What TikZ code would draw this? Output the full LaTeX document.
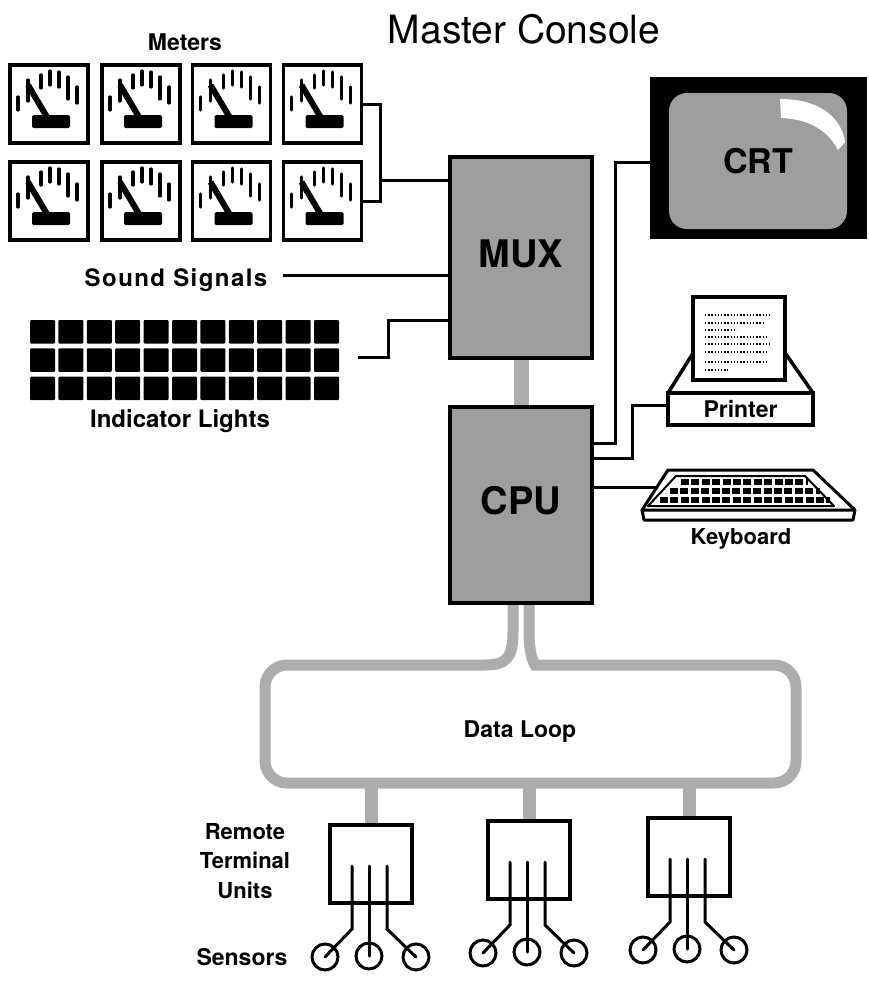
\documentclass[tikz,border=0pt]{standalone}
\usepackage{fontspec}
\setmainfont{TeX Gyre Heros}
\usetikzlibrary{calc,backgrounds}

\definecolor{screen}{gray}{0.62}
\definecolor{bus}{gray}{0.68}

\tikzset{
  wire/.style={line width=3pt},
  band/.style={draw=bus, line width=11pt},
  unitbox/.style={draw, line width=4pt, fill=screen, minimum width=142pt,
    inner sep=0pt, font=\bfseries\fontsize{38}{38}\selectfont,
    text height=27pt, text depth=8pt},
  meterbox/.style={draw, line width=3.8pt, fill=white, minimum width=78pt,
    minimum height=78pt, inner sep=0pt, outer sep=0pt},
  rtubox/.style={draw, line width=3.5pt, fill=white, minimum width=82pt,
    minimum height=78pt, inner sep=0pt},
  sensor/.style={draw, circle, line width=3pt, minimum size=26pt, inner sep=0pt},
  lbl/.style={inner sep=0pt, anchor=base, font=\bfseries\fontsize{23}{23}\selectfont},
}

% dial face of one panel meter, drawn from the box's top-left corner
\newcommand{\meterface}[1]{%
  \begin{scope}[shift={(#1.north west)}]
    \foreach \tx/\ta/\tb in {8/32/45, 18/15/36, 31/10/23, 40/6/20, 49/7/22, 58/12/34, 67/22/38}
      \draw[line width=3.2pt, line cap=round] (\tx,\ta) -- (\tx,\tb);
    \draw[line width=6pt] (18,20) -- (37,52);
    \fill[rounded corners=1.5pt] (22,50) rectangle (60,63);
  \end{scope}}

% three sensor leads hanging below a remote terminal unit
\newcommand{\rtuwiring}[2]{%
  \begin{scope}[shift={(#1.center)}]
    \node[sensor] (#2a) at (-46,93) {};
    \node[sensor] (#2b) at (-2,92) {};
    \node[sensor] (#2c) at (45,93) {};
    \draw[wire, line cap=round] (-19,2) -- (-19,65) -- (#2a.center);
    \draw[wire, line cap=round] (-2,2) -- (#2b.center);
    \draw[wire, line cap=round] (16,2) -- (16,65) -- (#2c.center);
  \end{scope}}

\begin{document}
\begin{tikzpicture}[x=1pt, y=-1pt]
\useasboundingbox (0,0) rectangle (868,983);

% ---------- titles ----------
\node[inner sep=0pt, anchor=base, font=\fontsize{39}{39}\selectfont] (title) at (524,43) {Master Console};
\node[lbl] (meterslbl) at (185,50) {Meters};

% ---------- meters ----------
\foreach \c/\x in {1/49, 2/141, 3/231.5, 4/322.5}
  \foreach \r/\y in {1/104, 2/201} {
    \node[meterbox] (m\r\c) at (\x,\y) {};
    \meterface{m\r\c}
  }

% ---------- sound signals and indicator lights ----------
\node[lbl, font=\bfseries\fontsize{24}{24}\selectfont\addfontfeature{LetterSpace=6}] (soundlbl) at (176,286) {Sound Signals};
\coordinate (soundend) at (283,275);

\foreach \r in {0,1,2}
  \foreach \c in {0,...,10}
    \fill[rounded corners=1pt] ({30+\c*28.4},{320+\r*28.3}) rectangle ++(25,23.5);
\node[lbl, font=\bfseries\fontsize{24}{24}\selectfont] (lightslbl) at (180,427) {Indicator Lights};
\coordinate (lightsend) at (358,357);

% ---------- MUX and CPU ----------
\node[unitbox, minimum height=201pt] (mux) at (521,257.5) {MUX};
\node[unitbox, minimum height=196pt] (cpu) at (521,505) {CPU};

% ---------- CRT ----------
\node[fill=black, draw=black, minimum width=216pt, minimum height=161pt, inner sep=0pt] (crt) at (758,157.5) {};
\node[fill=screen, rounded corners=18pt, minimum width=178pt, minimum height=136pt, inner sep=0pt,
      font=\bfseries\fontsize{34}{34}\selectfont, text height=24pt, text depth=0pt] (screen) at (758,161) {CRT};
% reflection on the glass
\fill[white] (780,99) .. controls (818,99) and (841,116) .. (845,142)
  -- (838,150) .. controls (828,131) and (810,119) .. (781,118) -- cycle;

% ---------- printer ----------
\draw[line width=3.5pt, fill=white, line join=round] (695,350) -- (668,393) -- (813,393) -- (783,350) -- cycle;
\node[draw, line width=3.5pt, fill=white, minimum width=92pt, minimum height=83pt, inner sep=0pt] (paper) at (739,338.5) {};
\foreach \y/\xe in {315/770, 323/765, 330/737, 337/768, 344/770, 352/768, 362/766, 370/728}
  \draw[line width=1.4pt, dash pattern=on 1.4pt off 1.8pt] (705,\y) -- (\xe,\y);
\node[draw, line width=3.5pt, fill=white, minimum width=145pt, minimum height=32pt, inner sep=0pt,
      font=\bfseries\fontsize{23}{23}\selectfont, text height=16pt, text depth=0pt] (printer) at (740.5,409) {Printer};

% ---------- keyboard ----------
\draw[line width=3pt, fill=white, line join=round] (668,470) -- (813,470) -- (855,510) -- (642,510) -- cycle;
\draw[line width=3pt, line join=round] (642,510) -- (644,520) -- (853,520) -- (855,510);
\draw[line width=2pt, line join=round] (676,476) -- (805,476) -- (834,506) -- (648,506) -- cycle;
\foreach \y/\xa/\xb in {482/681/808, 491/670/820, 500/660/830}
  \draw[line width=6pt, dash pattern=on 8pt off 2.4pt] (\xa,\y) -- (\xb,\y);
\coordinate (kbdin) at (657,487);
\node[lbl, font=\bfseries\fontsize{22}{22}\selectfont] (kbdlbl) at (741,544) {Keyboard};

% ---------- data loop and remote terminal units ----------
\node[lbl] (looplbl) at (520,737) {Data Loop};
\coordinate (loopbottom) at (0,783);

\node[rtubox] (rtu1) at (371,864) {};
\node[rtubox] (rtu2) at (529,860) {};
\node[rtubox] (rtu3) at (689,857) {};
\rtuwiring{rtu1}{sa}
\rtuwiring{rtu2}{sb}
\rtuwiring{rtu3}{sc}

\node[inner sep=0pt, align=center, font=\bfseries\fontsize{22}{29.5}\selectfont] (rtulbl) at (245,861) {Remote\\Terminal\\Units};
\node[lbl] (sensorslbl) at (242,965) {Sensors};

% ---------- shaded buses, behind the boxes ----------
\begin{scope}[on background layer]
  \coordinate (busL) at ($(cpu.south)+(-8,0)$);
  \coordinate (busR) at ($(cpu.south)+(8,0)$);
  \draw[band, line width=15pt] (mux.south) -- (cpu.north);
  \draw[band] (busL) -- ++(0,27) .. controls +(0,25) and +(22,0) .. (485,665)
    [rounded corners=22pt] -- (265,665) -- (265,783) -- (796,783) -- (796,665) -- (557,665)
    [sharp corners] .. controls +(-22,0) and +(0,25) .. ($(busR)+(0,27)$) -- (busR);
  \foreach \n in {rtu1,rtu2,rtu3}
    \draw[band, line width=13pt] (\n.north) -- (\n.north |- loopbottom);
\end{scope}

% ---------- wiring ----------
\coordinate (meterbus) at (380,180);
\draw[wire] (m14.east) -| (meterbus |- m24.east) -- (m24.east);
\draw[wire] (meterbus) -- (meterbus -| mux.west);
\draw[wire] (soundend) -- (soundend -| mux.west);
\draw[wire] (lightsend) -- ++(30,0) |- ($(mux.south west)+(0,-40)$);

\draw[wire] ($(cpu.north east)+(0,38)$) -- ++(21,0) |- ($(crt.west)+(0,4.5)$);
\draw[wire] ($(cpu.north east)+(0,53)$) -- ++(38,0) |- ($(printer.west)+(0,-4)$);
\draw[wire] (kbdin -| cpu.east) -- (kbdin);
\end{tikzpicture}
\end{document}
